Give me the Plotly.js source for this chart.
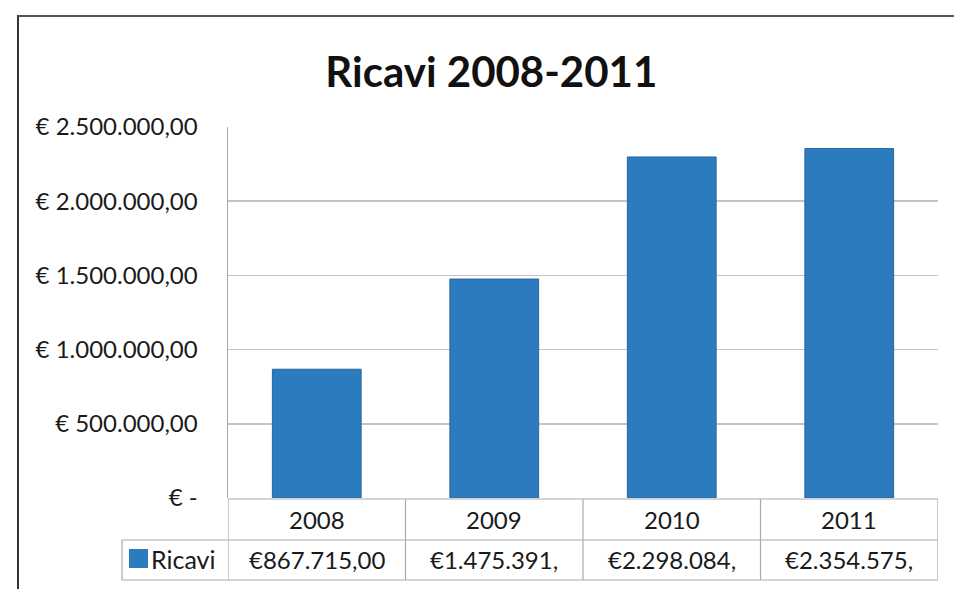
<!DOCTYPE html>
<html><head><meta charset="utf-8">
<script src="https://cdn.plot.ly/plotly-3.0.1.min.js"></script>
<style>html,body{margin:0;padding:0;background:#fff}#c{width:954px;height:589px}</style>
</head><body><div id="c"></div>
<script>
const years = ['2008','2009','2010','2011'];
const ricavi = [867715, 1475391, 2298084, 2354575];
const tableLabels = ['€867.715,00','€1.475.391,','€2.298.084,','€2.354.575,'];
const seriesName = 'Ricavi';
const tickVals = [0, 500000, 1000000, 1500000, 2000000, 2500000];
const tickText = ['€ -','€ 500.000,00','€ 1.000.000,00','€ 1.500.000,00','€ 2.000.000,00','€ 2.500.000,00'];

const W = 954, H = 589, L = 228, R = 16, T = 127, B = 91;
const pw = W - L - R, ph = H - T - B;
const px2x = p => (p - L) / pw;
const py2y = p => (H - B - p) / ph;
const blue = '#2c7bbf';
const font = 'Lato, "Open Sans", sans-serif';
const txt = '#1a1a1a';
const xs = years.map((_, i) => i);

const shapes = [];
const gridc = '#a9a9a9';
[540, 580].forEach(p => shapes.push({type:'line', xref:'paper', yref:'paper', x0:px2x(122), x1:1, y0:py2y(p), y1:py2y(p), line:{color:gridc, width:1.2}}));
shapes.push({type:'line', xref:'paper', yref:'paper', x0:0, x1:1, y0:py2y(499), y1:py2y(499), line:{color:gridc, width:1.2}});
[-0.5, 0.5, 1.5, 2.5, 3.5].forEach(v => shapes.push({type:'line', xref:'x', yref:'paper', x0:v, x1:v, y0:py2y(499), y1:py2y(580), line:{color:gridc, width:1.2}}));
shapes.push({type:'line', xref:'paper', yref:'paper', x0:px2x(122), x1:px2x(122), y0:py2y(540), y1:py2y(580), line:{color:gridc, width:1.2}});
shapes.push({type:'rect', xref:'paper', yref:'paper', x0:px2x(129), x1:px2x(148), y0:py2y(568), y1:py2y(549), fillcolor:blue, line:{width:0}});
shapes.push({type:'line', xref:'paper', yref:'paper', x0:px2x(18), x1:px2x(18), y0:py2y(15), y1:py2y(589), line:{color:'#333', width:2}});
shapes.push({type:'line', xref:'paper', yref:'paper', x0:px2x(18), x1:px2x(954), y0:py2y(16), y1:py2y(16), line:{color:'#555', width:2}});

const annotations = [];
years.forEach((y, i) => annotations.push({xref:'x', yref:'paper', x:i, y:py2y(519), text:y, showarrow:false, font:{family:font, size:24, color:txt}, yanchor:'middle'}));
tableLabels.forEach((t, i) => annotations.push({xref:'x', yref:'paper', x:i, y:py2y(559), text:t, showarrow:false, font:{family:font, size:24, color:txt}, yanchor:'middle'}));
annotations.push({xref:'paper', yref:'paper', x:px2x(149), y:py2y(559), text:seriesName, showarrow:false, xanchor:'left', font:{family:font, size:25, color:txt}, yanchor:'middle'});

Plotly.newPlot('c', [{
  type:'bar', x: xs, y: ricavi, name: seriesName,
  marker:{color: blue, line:{color:'#24679f', width:1}}, width:0.5
}], {
  width: W, height: H,
  margin:{l:L, r:R, t:T, b:B},
  paper_bgcolor:'#fff', plot_bgcolor:'#fff',
  showlegend:false,
  title:{text:'<b>Ricavi 2008-2011</b>', font:{family:font, size:42, color:'#111'}, x:0.515, xanchor:'center', y:0.878, yanchor:'middle'},
  xaxis:{range:[-0.5,3.5], showticklabels:false, showgrid:false, zeroline:false, ticks:'', fixedrange:true},
  yaxis:{range:[0,2500000], tickvals:tickVals, ticktext:tickText, showgrid:true, gridcolor:'#c4c4c4', gridwidth:1.5,
         showline:true, linecolor:'#a9a9a9', linewidth:1.5, zeroline:false, ticks:'', ticklabelstandoff:24,
         tickfont:{family:font, size:24, color:txt}},
  shapes, annotations
}, {staticPlot:true});
</script></body></html>
